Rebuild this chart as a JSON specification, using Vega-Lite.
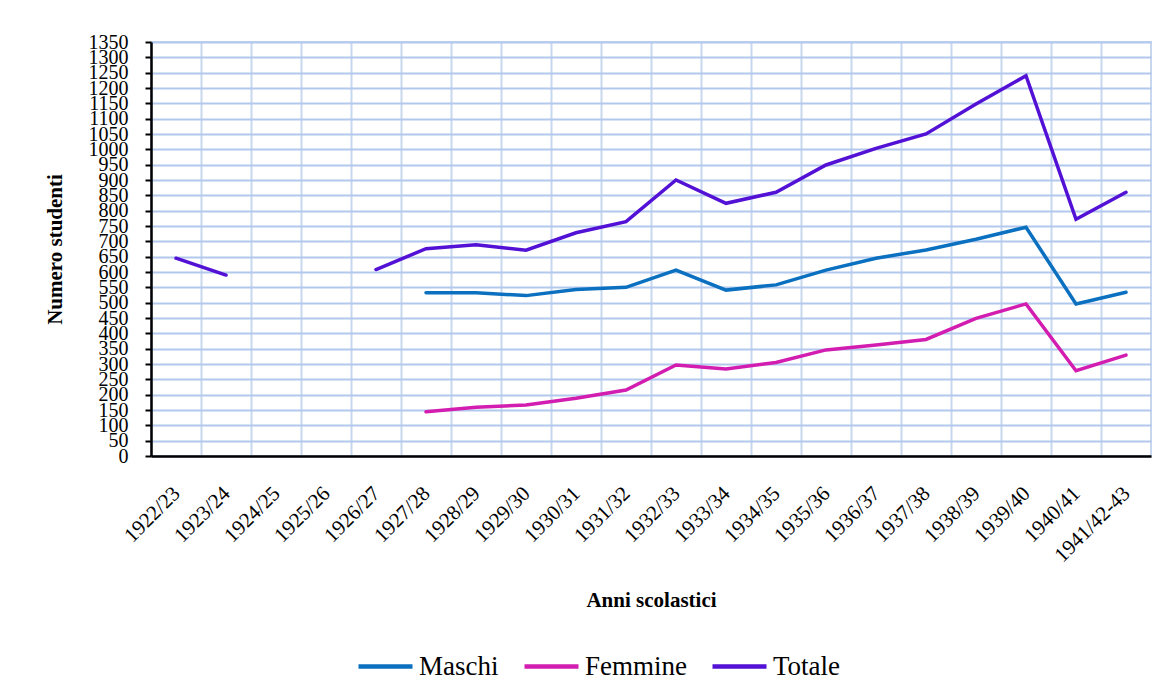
{
  "$schema": "https://vega.github.io/schema/vega-lite/v6.json",
  "autosize": "none",
  "width": 1000,
  "height": 414,
  "padding": {"left": 151, "top": 42, "right": 17, "bottom": 242},
  "background": "white",
  "config": {
    "font": "Liberation Serif",
    "view": {"stroke": "#C8D7F0", "strokeWidth": 2}
  },
  "data": {
    "values": [
      {"anno": "1922/23", "serie": "Totale", "valore": 645},
      {"anno": "1923/24", "serie": "Totale", "valore": 590},
      {"anno": "1924/25", "serie": "Totale", "valore": null},
      {"anno": "1925/26", "serie": "Totale", "valore": null},
      {"anno": "1926/27", "serie": "Totale", "valore": 608},
      {"anno": "1927/28", "serie": "Totale", "valore": 676},
      {"anno": "1928/29", "serie": "Totale", "valore": 689},
      {"anno": "1929/30", "serie": "Totale", "valore": 671},
      {"anno": "1930/31", "serie": "Totale", "valore": 728},
      {"anno": "1931/32", "serie": "Totale", "valore": 764},
      {"anno": "1932/33", "serie": "Totale", "valore": 900},
      {"anno": "1933/34", "serie": "Totale", "valore": 824},
      {"anno": "1934/35", "serie": "Totale", "valore": 860},
      {"anno": "1935/36", "serie": "Totale", "valore": 949},
      {"anno": "1936/37", "serie": "Totale", "valore": 1003},
      {"anno": "1937/38", "serie": "Totale", "valore": 1050},
      {"anno": "1938/39", "serie": "Totale", "valore": 1148},
      {"anno": "1939/40", "serie": "Totale", "valore": 1240},
      {"anno": "1940/41", "serie": "Totale", "valore": 772},
      {"anno": "1941/42-43", "serie": "Totale", "valore": 860},
      {"anno": "1922/23", "serie": "Maschi", "valore": null},
      {"anno": "1923/24", "serie": "Maschi", "valore": null},
      {"anno": "1924/25", "serie": "Maschi", "valore": null},
      {"anno": "1925/26", "serie": "Maschi", "valore": null},
      {"anno": "1926/27", "serie": "Maschi", "valore": null},
      {"anno": "1927/28", "serie": "Maschi", "valore": 532},
      {"anno": "1928/29", "serie": "Maschi", "valore": 532},
      {"anno": "1929/30", "serie": "Maschi", "valore": 523},
      {"anno": "1930/31", "serie": "Maschi", "valore": 543},
      {"anno": "1931/32", "serie": "Maschi", "valore": 550},
      {"anno": "1932/33", "serie": "Maschi", "valore": 606},
      {"anno": "1933/34", "serie": "Maschi", "valore": 541},
      {"anno": "1934/35", "serie": "Maschi", "valore": 558},
      {"anno": "1935/36", "serie": "Maschi", "valore": 606},
      {"anno": "1936/37", "serie": "Maschi", "valore": 645},
      {"anno": "1937/38", "serie": "Maschi", "valore": 672},
      {"anno": "1938/39", "serie": "Maschi", "valore": 707},
      {"anno": "1939/40", "serie": "Maschi", "valore": 746},
      {"anno": "1940/41", "serie": "Maschi", "valore": 496},
      {"anno": "1941/42-43", "serie": "Maschi", "valore": 534},
      {"anno": "1922/23", "serie": "Femmine", "valore": null},
      {"anno": "1923/24", "serie": "Femmine", "valore": null},
      {"anno": "1924/25", "serie": "Femmine", "valore": null},
      {"anno": "1925/26", "serie": "Femmine", "valore": null},
      {"anno": "1926/27", "serie": "Femmine", "valore": null},
      {"anno": "1927/28", "serie": "Femmine", "valore": 144},
      {"anno": "1928/29", "serie": "Femmine", "valore": 159},
      {"anno": "1929/30", "serie": "Femmine", "valore": 166},
      {"anno": "1930/31", "serie": "Femmine", "valore": 188},
      {"anno": "1931/32", "serie": "Femmine", "valore": 215},
      {"anno": "1932/33", "serie": "Femmine", "valore": 297},
      {"anno": "1933/34", "serie": "Femmine", "valore": 284},
      {"anno": "1934/35", "serie": "Femmine", "valore": 305},
      {"anno": "1935/36", "serie": "Femmine", "valore": 346},
      {"anno": "1936/37", "serie": "Femmine", "valore": 362},
      {"anno": "1937/38", "serie": "Femmine", "valore": 380},
      {"anno": "1938/39", "serie": "Femmine", "valore": 449},
      {"anno": "1939/40", "serie": "Femmine", "valore": 496},
      {"anno": "1940/41", "serie": "Femmine", "valore": 278},
      {"anno": "1941/42-43", "serie": "Femmine", "valore": 329}
    ]
  },
  "mark": {"type": "line", "strokeWidth": 3.5, "strokeCap": "round", "invalid": "break-paths-show-domains"},
  "encoding": {
    "x": {
      "field": "anno",
      "type": "nominal",
      "scale": {"type": "band", "paddingInner": 0, "paddingOuter": 0,
        "domain": ["1922/23","1923/24","1924/25","1925/26","1926/27","1927/28","1928/29","1929/30","1930/31","1931/32","1932/33","1933/34","1934/35","1935/36","1936/37","1937/38","1938/39","1939/40","1940/41","1941/42-43"]},
      "axis": {
        "title": "Anni scolastici",
        "titleFont": "Liberation Serif",
        "titleFontSize": 21,
        "titleFontWeight": "bold",
        "titleColor": "black",
        "titleBaseline": "alphabetic",
        "titleY": 150,
        "bandPosition": 0,
        "labelOffset": 1,
        "labelAngle": -45,
        "labelAlign": "right",
        "labelBaseline": "middle",
        "labelPadding": 34,
        "labelFont": "Liberation Serif",
        "labelFontSize": 21,
        "labelColor": "black",
        "ticks": false,
        "grid": true,
        "gridColor": "#C8D7F0",
        "gridWidth": 2,
        "domainColor": "black",
        "domainWidth": 2.5
      }
    },
    "y": {
      "field": "valore",
      "type": "quantitative",
      "scale": {"domain": [0, 1350], "nice": false, "zero": true},
      "axis": {
        "title": "Numero studenti",
        "titleFont": "Liberation Serif",
        "titleFontSize": 21,
        "titleFontWeight": "bold",
        "titleColor": "black",
        "titleBaseline": "middle",
        "titleX": -96,
        "values": [0,50,100,150,200,250,300,350,400,450,500,550,600,650,700,750,800,850,900,950,1000,1050,1100,1150,1200,1250,1300,1350],
        "format": "d",
        "labelFont": "Liberation Serif",
        "labelFontSize": 20,
        "labelColor": "black",
        "labelPadding": 17,
        "labelOverlap": false,
        "labelBound": false,
        "tickSize": 6,
        "tickColor": "black",
        "tickWidth": 2,
        "grid": true,
        "gridColor": "#B2C8EC",
        "gridWidth": 2,
        "domainColor": "black",
        "domainWidth": 2.5
      }
    },
    "color": {
      "field": "serie",
      "type": "nominal",
      "scale": {"domain": ["Maschi", "Femmine", "Totale"], "range": ["#0B70BF", "#D21DB0", "#5211D5"]},
      "legend": {
        "title": null,
        "orient": "none",
        "direction": "horizontal",
        "legendX": 205,
        "legendY": 595,
        "gridAlign": "none",
        "symbolType": "stroke",
        "symbolSize": 2916,
        "symbolStrokeWidth": 4.5,
        "labelFont": "Liberation Serif",
        "labelFontSize": 27,
        "labelColor": "black",
        "labelOffset": 4,
        "columnPadding": 16,
        "labelLimit": 300
      }
    }
  }
}
